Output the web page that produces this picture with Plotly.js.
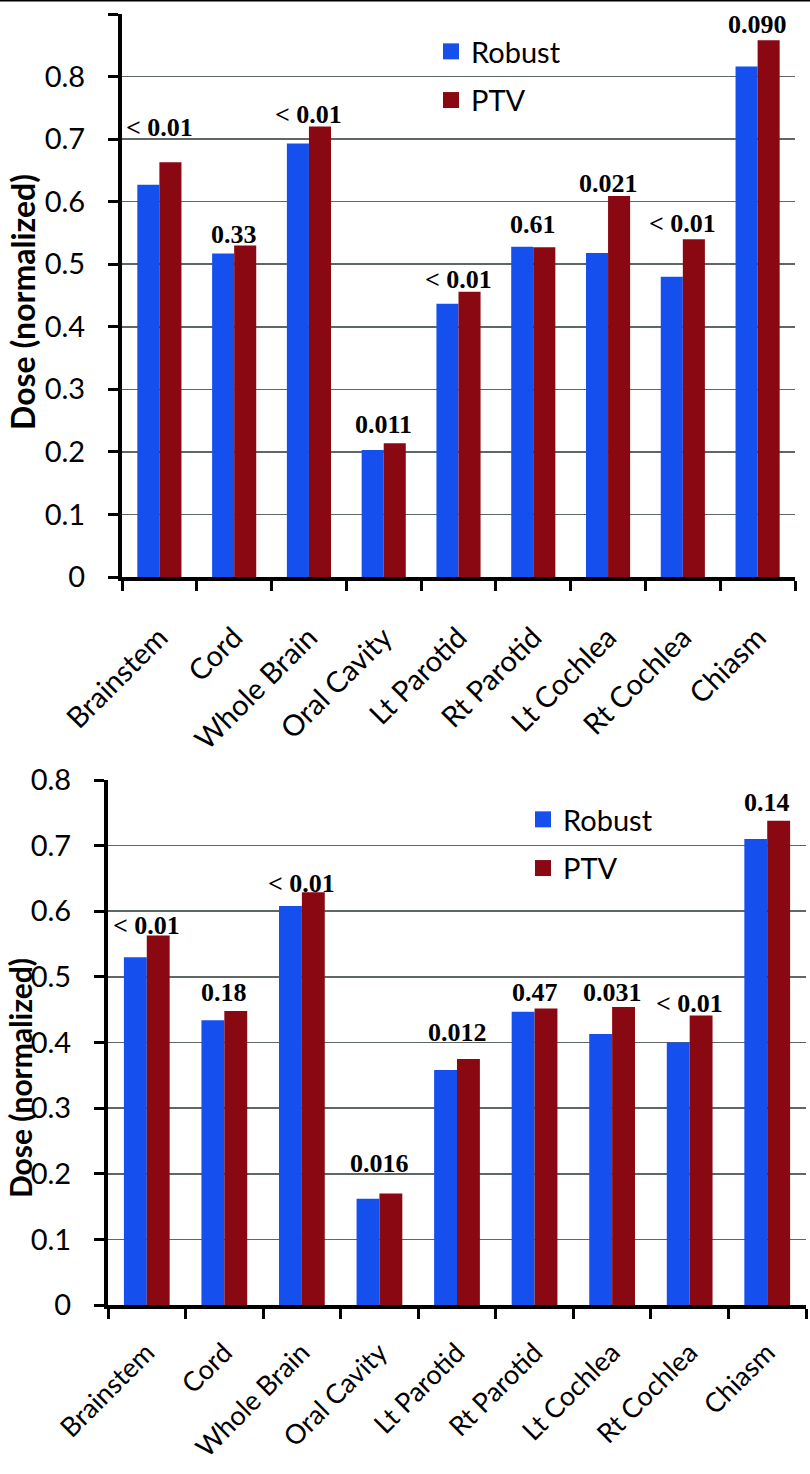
<!DOCTYPE html>
<html><head><meta charset="utf-8">
<script src="https://cdn.plot.ly/plotly-3.0.1.min.js"></script>
<style>html,body{margin:0;padding:0;background:#fff}#chart{width:810px;height:1474px}</style>
</head><body><div id="chart"></div>
<script>
// ---- data ----
const categories = ["Brainstem","Cord","Whole Brain","Oral Cavity","Lt Parotid","Rt Parotid","Lt Cochlea","Rt Cochlea","Chiasm"];
const seriesNames = ["Robust","PTV"];
const topRobust = [0.627,0.517,0.693,0.203,0.437,0.528,0.518,0.480,0.816];
const topPTV    = [0.663,0.530,0.720,0.214,0.456,0.527,0.609,0.540,0.858];
const topPLabels = ["< 0.01","0.33","< 0.01","0.011","< 0.01","0.61","0.021","< 0.01","0.090"];
const topPLabelY = [0.719,0.547,0.740,0.243,0.475,0.563,0.629,0.565,0.884];
const bottomRobust = [0.530,0.434,0.608,0.162,0.358,0.447,0.413,0.400,0.710];
const bottomPTV    = [0.563,0.448,0.629,0.170,0.375,0.452,0.454,0.441,0.738];
const bottomPLabels = ["< 0.01","0.18","< 0.01","0.016","0.012","0.47","0.031","< 0.01","0.14"];
const bottomPLabelY = [0.579,0.476,0.643,0.216,0.415,0.476,0.476,0.460,0.765];
const yTitle = "Dose (normalized)";

// ---- style ----
const W = 810, H = 1474;
const px = v => v / W, py = v => (H - v) / H;
const BLUE = "#1550EE", RED = "#8A0812";
const sansFont = "Lato, 'Open Sans', sans-serif";

function bars(y, name, color, xa, ya) {
  return {type: "bar", x: categories, y: y, name: name, xaxis: xa, yaxis: ya,
    marker: {color: color, line: {width: 0}}, showlegend: false, hoverinfo: "skip"};
}
function legendDummy(name, color, xa, ya, leg) {
  return {type: "scatter", mode: "markers", x: [null], y: [null], name: name, xaxis: xa, yaxis: ya,
    legend: leg, legendgroup: leg + name,
    marker: {symbol: "square", size: 16, color: color, line: {width: 0}}, showlegend: true};
}

const data = [
  bars(topRobust, seriesNames[0], BLUE, "x", "y"),
  bars(topPTV, seriesNames[1], RED, "x", "y"),
  bars(bottomRobust, seriesNames[0], BLUE, "x2", "y2"),
  bars(bottomPTV, seriesNames[1], RED, "x2", "y2"),
  legendDummy(seriesNames[0], BLUE, "x", "y", "legend"),
  legendDummy(seriesNames[1], RED, "x", "y", "legend"),
  legendDummy(seriesNames[0], BLUE, "x2", "y2", "legend2"),
  legendDummy(seriesNames[1], RED, "x2", "y2", "legend2")
];

function xAxis(domain, anchor, fs, standoff) {
  return {domain: domain, anchor: anchor, type: "category", categoryorder: "array", categoryarray: categories,
    showline: true, linecolor: "#000", linewidth: 4, ticks: "outside", tickson: "boundaries",
    ticklen: 10, tickwidth: 3, tickcolor: "#000", tickangle: -45, ticklabelstandoff: standoff,
    tickfont: {family: sansFont, size: fs, color: "#000"}, showgrid: false, zeroline: false, fixedrange: true};
}
function yAxis(domain, anchor, max) {
  return {domain: domain, anchor: anchor, range: [0, max], dtick: 0.1, tick0: 0,
    showline: true, linecolor: "#000", linewidth: 4, ticks: "outside", ticklen: 10, tickwidth: 3, tickcolor: "#000",
    ticklabelstandoff: 17,
    tickfont: {family: sansFont, size: 29, color: "#000"},
    showgrid: true, gridcolor: "#5f6666", gridwidth: 1.6, zeroline: false, fixedrange: true};
}

function pAnn(labels, ys, xa, ya) {
  return labels.map((t, i) => ({x: categories[i], y: ys[i], xref: xa, yref: ya, text: t, showarrow: false,
    xanchor: "center", yanchor: "middle",
    font: {family: "'Liberation Serif', 'Times New Roman', serif", size: 26, weight: 700, color: "#000"}}));
}
function titleAnn(xPx, yPx, fs) {
  return {xref: "paper", yref: "paper", x: px(xPx), y: py(yPx), text: yTitle, textangle: -90,
    showarrow: false, xanchor: "center", yanchor: "middle",
    font: {family: sansFont, size: fs, weight: 700, color: "#000"}};
}

const legendBase = {bgcolor: "rgba(0,0,0,0)", borderwidth: 0, xanchor: "left", yanchor: "top",
  traceorder: "grouped", tracegroupgap: 8, font: {family: sansFont, size: 29, color: "#000"}};

const layout = {
  width: W, height: H, margin: {l: 0, r: 0, t: 0, b: 0},
  paper_bgcolor: "#fff", plot_bgcolor: "#fff",
  barmode: "group", bargap: 0.41, bargroupgap: 0,
  xaxis: xAxis([px(122), px(795)], "y", 29, 28),
  yaxis: yAxis([py(577), py(14)], "x", 0.9),
  xaxis2: xAxis([px(108), px(806)], "y2", 27, 17),
  yaxis2: yAxis([py(1305), py(780)], "x2", 0.8),
  legend: Object.assign({}, legendBase, {x: px(431), y: py(26)}),
  legend2: Object.assign({}, legendBase, {x: px(523), y: py(794)}),
  annotations: pAnn(topPLabels, topPLabelY, "x", "y")
    .concat(pAnn(bottomPLabels, bottomPLabelY, "x2", "y2"))
    .concat([titleAnn(23, 302, 32), titleAnn(20, 1078, 30)]),
  shapes: [{type: "line", xref: "paper", yref: "paper", x0: 0, x1: 1, y0: py(0.8), y1: py(0.8),
    line: {color: "#000", width: 1.6}}],
  showlegend: true
};

Plotly.newPlot("chart", data, layout, {displayModeBar: false, staticPlot: true});
</script></body></html>
